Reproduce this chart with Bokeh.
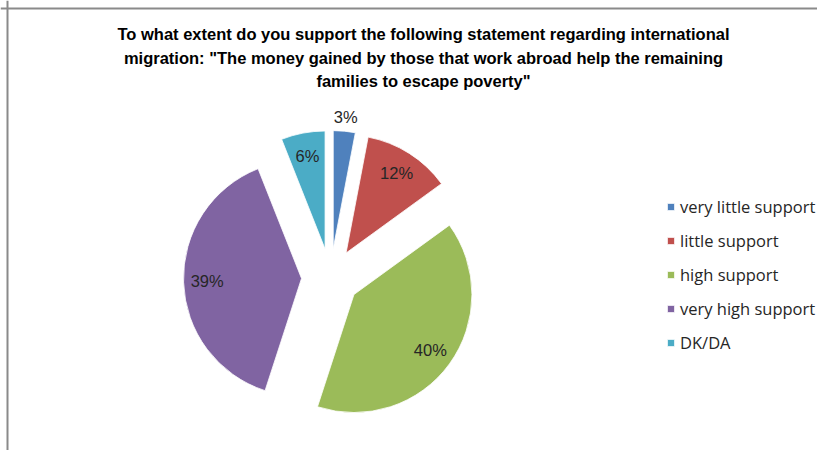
import numpy as np
from bokeh.plotting import figure
from bokeh.models import Range1d, Legend, LegendItem, Span
from bokeh.core.properties import value
from bokeh.embed import file_html
from bokeh.resources import INLINE

# ---- data ----
categories = ["very little support", "little support", "high support", "very high support", "DK/DA"]
shares = [3, 12, 40, 39, 6]
colors = ["#4F81BD", "#C0504D", "#9BBB59", "#8064A2", "#4BACC6"]
title_lines = [
    "To what extent do you support the following statement regarding international",
    "migration: \"The money gained by those that work abroad help the remaining",
    "families to escape poverty\"",
]

# ---- layout (picture pixel space) ----
W, H = 817, 450
def sy(y):  # picture y (down) -> data y (up)
    return H - y

cx, cy = 330, sy(277)
R = 118
EXPLODE = 29

p = figure(width=W, height=H, output_backend="svg", toolbar_location=None,
           x_range=Range1d(0, W), y_range=Range1d(0, H),
           min_border=0, min_border_left=0, min_border_right=0,
           min_border_top=0, min_border_bottom=0)
p.axis.visible = False
p.grid.visible = False
p.outline_line_color = None
p.background_fill_color = "white"
p.border_fill_color = "white"

# chart border (top & left only visible in reference)
p.add_layout(Span(location=sy(8), dimension="width", line_color="#8a8a8a", line_width=2))
p.add_layout(Span(location=7, dimension="height", line_color="#8a8a8a", line_width=2))

fr = np.array(shares, dtype=float) / sum(shares)
c1 = np.cumsum(fr)
c0 = c1 - fr
start = np.pi / 2 - 2 * np.pi * c1
end = np.pi / 2 - 2 * np.pi * c0
mid = (start + end) / 2
xs = cx + EXPLODE * np.cos(mid)
ys = cy + EXPLODE * np.sin(mid)

renderers = []
for i in range(len(categories)):
    r = p.wedge(x=xs[i], y=ys[i], radius=R, start_angle=start[i], end_angle=end[i],
                fill_color=colors[i], line_color="white", line_width=0.8)
    renderers.append(r)

# data labels
lab_r = np.where(fr < 0.05, EXPLODE + R + 14, EXPLODE + 0.8 * R)
lx = cx + lab_r * np.cos(mid)
ly = cy + lab_r * np.sin(mid)
labels = [f"{s}%" for s in shares]
p.text(x=lx, y=ly, text=labels, text_align="center", text_baseline="middle",
       text_font=value("Liberation Sans"), text_font_size="16.5px", text_color="#262626")

# title
tx = [423] * 3
ty = [sy(33), sy(57), sy(80)]
p.text(x=tx, y=ty, text=title_lines, text_align="center", text_baseline="middle",
       text_font=value("Liberation Sans"), text_font_style="bold",
       text_font_size="16.5px", text_color="black")

legend = Legend(items=[LegendItem(label=categories[i], renderers=[renderers[i]])
                       for i in range(len(categories))],
                location=(666, sy(354)), orientation="vertical",
                glyph_width=9, glyph_height=9, label_standoff=5,
                label_text_font="Open Sans", label_text_font_size="16.5px",
                label_text_color="#262626", label_height=22, spacing=11,
                padding=0, margin=0, border_line_alpha=0, background_fill_alpha=0)
p.add_layout(legend, "center")

open("out.html", "w").write(file_html(p, INLINE))
